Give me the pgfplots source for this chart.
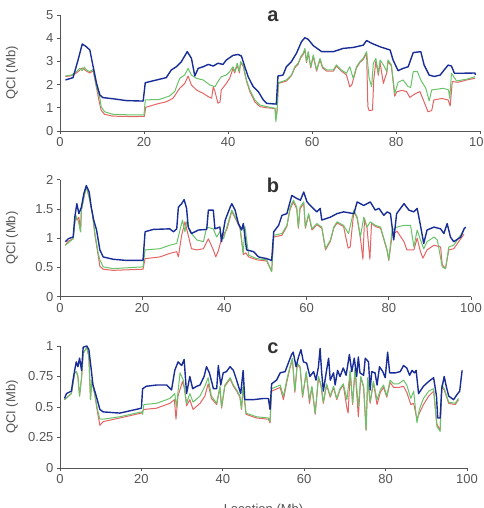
\documentclass[border=0pt]{standalone}
\usepackage{pgfplots}
\pgfplotsset{compat=1.18}
\usepackage{fontspec}
\setmainfont{Liberation Sans}
\definecolor{qblue}{RGB}{25,45,150}
\definecolor{qgreen}{RGB}{105,195,105}
\definecolor{qred}{RGB}{228,100,100}
\definecolor{txtgray}{RGB}{85,85,85}
\pgfplotsset{
  qci/.style={
    scale only axis, axis lines*=left, xmin=0, xmax=100, ymin=0,
    xtick={0,20,...,100}, tick align=outside, major tick length=3pt,
    axis line style={draw=txtgray, line width=0.8pt},
    tick style={draw=txtgray, line width=0.8pt},
    ticklabel style={font=\fontsize{13}{13}\selectfont, text=txtgray},
    /pgf/number format/assume math mode=true,
    ylabel={QCI (Mb)},
    ylabel style={anchor=center, font=\fontsize{13}{13}\selectfont, text=txtgray},
    clip=false,
  },
  bl/.style={qblue, line width=1.4pt, line join=round, mark=none},
  gr/.style={qgreen, line width=1pt, line join=round, mark=none},
  rd/.style={qred, line width=1pt, line join=round, mark=none},
}
\begin{document}
\begin{tikzpicture}[x=1pt,y=1pt]
% ---------------- panel a
\begin{axis}[qci, at={(60pt,377pt)}, anchor=south west, width=420pt, height=116pt,
  ymax=5, ytick={0,1,...,5}, ylabel style={at={(axis description cs:-0.114,0.5)}}]
\addplot[rd] coordinates {(1.3,2.35) (2.7,2.38) (3.9,2.5) (4.7,2.62) (5.3,2.72) (6.3,2.58) (7.1,2.5) (7.9,2.6) (8.7,1.85) (9.3,1.3) (9.8,0.9) (10.6,0.72) (12.6,0.64) (17.4,0.62) (20.1,0.63) (20.4,1.02) (23,1.16) (25.3,1.26) (26.9,1.41) (28.5,1.84) (29.7,2.05) (30.5,2.37) (31.3,1.98) (32.5,1.77) (34.1,1.62) (35.3,1.48) (36.1,1.41) (36.5,1.91) (36.9,1.70) (37.6,1.2) (38.1,1.25) (38.4,1.77) (39.6,2.05) (40.4,2.27) (41.2,2.7) (41.6,2.5) (42.2,2.85) (42.7,2.5) (43,2.95) (43.6,2.8) (44.4,2.15) (45.2,1.7) (46.4,1.25) (47.6,1.05) (49.2,1.0) (51.2,0.97) (51.4,0.55) (51.7,0.9) (52,2.05) (53.9,2.15) (55.1,2.38) (55.9,2.72) (56.7,2.88) (57.3,3.15) (57.9,3.3) (58.3,3.5) (58.7,2.95) (59.1,3.38) (59.7,2.72) (60.3,3.22) (61.1,2.58) (61.9,3.08) (62.5,2.72) (63.5,2.58) (65.1,2.58) (65.8,2.8) (67,2.58) (68.2,2.42) (69,1.9) (69.5,2.0) (69.8,2.2) (70.6,2.72) (71.4,2.95) (72.2,3.08) (73,3.35) (73.3,1.05) (73.6,0.88) (74.4,0.9) (74.7,2.2) (75.2,3.0) (75.8,2.4) (76.2,2.95) (77,2.05) (77.4,2.3) (77.8,2.5) (78.1,3.0) (78.9,2.8) (79.7,1.5) (80.2,1.69) (81.4,1.75) (82.5,1.7) (83.3,1.45) (84.5,1.6) (85.7,1.7) (86.5,1.34) (87.3,0.98) (87.6,0.83) (88.5,0.88) (89,1.34) (90.9,1.4) (92.4,1.34) (92.9,1.08) (93.4,2.13) (94.8,2.1) (96.8,2.2) (98.8,2.27)};
\addplot[gr] coordinates {(1.3,2.37) (2.7,2.41) (3.9,2.56) (4.7,2.7) (5.3,2.6) (5.8,2.75) (6.3,2.63) (7.1,2.56) (7.9,2.66) (8.7,1.91) (9.5,1.41) (9.8,1.05) (10.6,0.83) (12.6,0.72) (17.4,0.69) (20,0.69) (20.3,1.34) (23.7,1.36) (26.1,1.51) (27.3,1.70) (28.5,2.27) (29.7,2.41) (30.5,2.70) (31.3,2.41) (32.5,2.27) (34.1,2.2) (35.7,1.98) (36.9,1.91) (37.6,2.13) (38.4,2.34) (39.6,2.41) (40.4,2.56) (41.2,2.77) (41.6,2.56) (42.2,2.92) (42.7,2.56) (43,2.99) (43.6,2.85) (44.4,2.2) (45.2,1.77) (46.4,1.34) (47.6,1.12) (49.2,1.05) (51.2,0.98) (51.4,0.4) (51.7,0.9) (52,2.08) (53.9,2.2) (55.1,2.41) (55.9,2.77) (56.7,2.92) (57.3,3.2) (57.9,3.35) (58.3,3.56) (58.7,2.99) (59.1,3.42) (59.7,2.77) (60.3,3.28) (61.1,2.63) (61.9,3.13) (62.5,2.77) (63.5,2.63) (65.1,2.63) (65.8,2.85) (67,2.63) (68.2,2.49) (69,2.77) (69.8,2.27) (70.6,2.77) (71.4,2.99) (72.2,3.13) (73,3.42) (73.6,2.27) (74.2,1.91) (74.6,2.92) (75.2,3.13) (75.8,2.49) (76.2,3.06) (77,2.85) (77.8,2.56) (78.1,3.06) (78.9,2.85) (79.7,1.62) (80.5,2.1) (81.7,2.2) (82.9,1.91) (83.5,1.88) (84.1,2.56) (85.1,2.56) (85.9,2.2) (87.1,1.84) (87.9,1.3) (88.5,1.77) (91.3,1.84) (92.5,1.77) (92.8,1.4) (93.2,2.49) (94.4,2.16) (96.8,2.23) (98.8,2.34)};
\addplot[bl] coordinates {(1.3,2.2) (3.1,2.3) (4.3,3.06) (5.3,3.75) (6.3,3.63) (7.1,3.49) (7.9,2.77) (8.7,2.05) (9.5,1.55) (10.2,1.44) (12.6,1.39) (15.8,1.31) (19.8,1.29) (20.3,2.08) (23,2.2) (25.3,2.3) (26.5,2.63) (27.7,2.77) (28.9,2.99) (30.3,3.42) (31.3,3.13) (32.1,2.37) (32.9,2.7) (34.1,2.77) (35.3,2.87) (36.5,2.8) (37.6,2.92) (38.8,2.87) (39.6,3.06) (41.2,3.26) (42.4,3.3) (43.2,3.23) (44,2.77) (44.8,2.34) (46,1.91) (47.2,1.7) (48.4,1.34) (49.2,1.19) (51.5,1.16) (51.9,2.37) (53.1,2.41) (53.9,2.77) (55.1,2.99) (56.3,3.35) (57.5,3.85) (58.3,4.02) (59.1,3.95) (60.3,3.68) (62.3,3.42) (65.1,3.42) (67.4,3.56) (69.8,3.6) (72.2,3.7) (73,3.9) (74.2,3.78) (76.2,3.63) (78.6,3.49) (79.3,3.06) (80.5,2.6) (81.7,2.7) (82.9,2.77) (84.1,3.38) (85.9,3.42) (86.7,2.84) (87.9,2.41) (89.1,2.35) (90.5,2.41) (92.4,2.84) (93.2,2.8) (93.9,2.49) (96,2.49) (98.8,2.5) (98.9,2.42)};
\node[font=\fontsize{20}{20}\selectfont\bfseries, text=black!80] at (rel axis cs:0.507,0.99) {a};
\end{axis}
% ---------------- panel b
\begin{axis}[qci, at={(60pt,211.3pt)}, anchor=south west, width=411pt, height=117pt,
  ymax=2, ytick={0,0.5,...,2}, ylabel style={at={(axis description cs:-0.117,0.5)}}]
\addplot[rd] coordinates {(1.3,0.88) (2,0.95) (3.2,0.99) (3.8,1.39) (4.1,1.31) (4.6,1.36) (5,1.11) (5.2,1.48) (6,1.76) (6.4,1.88) (7.1,1.70) (7.9,1.42) (8.5,1.05) (9.3,0.7) (9.7,0.52) (10.5,0.47) (12.9,0.45) (20.2,0.47) (20.7,0.65) (24.3,0.68) (26.7,0.74) (28.4,0.77) (28.8,0.68) (29.6,1.05) (30.4,1.28) (31.2,1.05) (32,0.82) (33.3,0.80) (34.9,0.82) (36.1,0.99) (37.3,0.80) (37.9,0.68) (38.5,0.78) (39.3,0.99) (40.2,1.11) (40.6,1.15) (41.8,1.46) (43,1.29) (43.8,1.17) (44.6,0.72) (45.2,0.75) (45.9,0.68) (47.9,0.63) (50.3,0.61) (51.5,0.43) (52,1.02) (54,1.05) (55.2,1.2) (56,1.5) (56.8,1.62) (57.6,1.5) (58,1.17) (58.4,1.5) (59.3,1.6) (59.7,1.17) (60.5,1.40) (61.3,1.14) (62.5,1.23) (63.7,1.17) (64.6,0.80) (65.8,0.95) (66.6,1.17) (67.4,1.26) (69,1.2) (70.1,0.83) (70.6,0.85) (71.5,1.46) (72.3,1.34) (73.1,1.0) (73.7,0.64) (74.1,1.34) (74.7,1.17) (75.4,0.64) (75.8,1.26) (76.7,1.2) (78,1.17) (79.6,0.78) (80,0.62) (80.8,1.05) (82,1.12) (83.7,0.94) (84.4,0.80) (86.1,0.80) (86.9,1.0) (87.7,0.77) (88.3,0.66) (89.3,0.80) (91,0.88) (92.6,0.85) (93,0.55) (93.8,0.48) (94.6,0.80) (95.8,0.82) (98.3,1.07)};
\addplot[gr] coordinates {(1.3,0.88) (3.2,0.99) (3.8,1.39) (4.4,1.31) (5,1.11) (5.2,1.48) (6,1.76) (6.4,1.88) (7.1,1.70) (7.9,1.42) (8.5,1.08) (9.3,0.74) (9.7,0.63) (10.5,0.51) (12.9,0.48) (20.2,0.51) (20.7,0.80) (24.3,0.82) (26.7,0.88) (28.4,0.91) (29.2,1.14) (29.8,1.31) (30.4,1.11) (30.8,1.28) (31.6,1.11) (33.3,0.97) (34.9,0.94) (35.7,1.19) (37.3,1.16) (38.1,1.02) (38.9,1.11) (39.8,0.99) (40.6,1.19) (41.8,1.48) (43,1.31) (43.8,1.19) (44.6,0.74) (45,1.2) (45.9,0.71) (47.9,0.65) (50.3,0.63) (51.5,0.43) (52,1.05) (54,1.08) (55.2,1.22) (56,1.53) (56.8,1.65) (57.6,1.53) (58,1.19) (58.4,1.53) (59.3,1.62) (59.7,1.19) (60.5,1.42) (61.3,1.16) (62.5,1.25) (63.7,1.19) (64.6,0.82) (65.8,0.97) (66.6,1.19) (67.4,1.28) (69,1.22) (70.2,1.08) (71.5,1.48) (72.3,1.36) (73.1,1.02) (73.9,1.36) (74.7,1.19) (75.5,1.28) (76.7,1.22) (78,1.19) (79.6,0.80) (80,0.63) (80.8,1.14) (82,1.19) (83.7,1.22) (85.3,1.22) (86.1,0.85) (86.9,1.14) (87.7,0.97) (88.5,0.82) (89.3,0.94) (91,1.02) (91.8,0.97) (93,0.51) (93.8,0.48) (94.6,0.85) (95.8,0.88) (98.3,1.14)};
\addplot[bl] coordinates {(1.3,0.94) (2,0.99) (3.2,1.02) (3.6,1.36) (4.1,1.59) (4.6,1.42) (5.2,1.53) (5.8,1.76) (6.4,1.9) (7.1,1.79) (7.6,1.53) (8.2,1.31) (8.9,1.14) (9.7,0.8) (10.5,0.68) (12.9,0.64) (16.2,0.62) (20.2,0.62) (20.7,1.11) (22.7,1.15) (26.7,1.16) (27.6,1.11) (28.4,1.16) (28.8,1.53) (29.6,1.59) (30.2,1.66) (30.8,1.51) (31.2,1.19) (32,1.08) (33.7,1.14) (35.7,1.15) (36.1,1.48) (37.3,1.48) (37.7,1.16) (38.9,1.19) (39.3,0.94) (39.9,1.19) (40.2,1.31) (41.4,1.53) (41.8,1.59) (42.6,1.48) (43.4,1.25) (44.2,1.14) (44.6,1.25) (45.4,0.8) (47.1,0.77) (48.3,0.68) (50.3,0.65) (51.5,0.62) (52,1.11) (53.2,1.22) (54,1.39) (55.2,1.42) (56.4,1.73) (57.6,1.68) (58.5,1.65) (59.3,1.79) (60.1,1.62) (61.3,1.53) (62.5,1.45) (63.3,1.51) (63.7,1.31) (65.8,1.36) (67.4,1.42) (69,1.45) (71.5,1.42) (72.3,1.62) (73.9,1.56) (75.5,1.62) (76.7,1.48) (77.6,1.51) (78.8,1.39) (79.6,1.45) (80.4,1.42) (81.2,0.97) (81.9,1.42) (83.7,1.59) (84.9,1.48) (86.1,1.45) (86.9,1.51) (87.7,1.22) (88.5,0.91) (89.3,1.14) (91,1.19) (92.6,1.16) (93.4,1.08) (94.2,1.25) (95,1.02) (95.8,0.94) (97.5,1.02) (98.3,1.16) (98.7,1.19)};
\node[font=\fontsize{20}{20}\selectfont\bfseries, text=black!80] at (rel axis cs:0.518,0.955) {b};
\end{axis}
% ---------------- panel c
\begin{axis}[qci, at={(60pt,40pt)}, anchor=south west, width=407pt, height=122pt,
  ymax=1, ytick={0,0.25,0.5,0.75,1}, ylabel style={at={(axis description cs:-0.118,0.5)}},
  xlabel={Location (Mb)},
  xlabel style={at={(axis description cs:0.5,0)}, anchor=north, yshift=-33pt,
    font=\fontsize{13}{13}\selectfont, text=txtgray}]
\addplot[rd] coordinates {(1.1,0.56) (2.8,0.61) (3.6,0.78) (4,0.79) (4.4,0.75) (4.8,0.59) (5.3,0.74) (5.7,0.94) (6.6,0.99) (7.1,0.91) (7.5,0.56) (7.8,0.72) (8.5,0.61) (9.2,0.46) (9.8,0.35) (10.6,0.38) (14.7,0.41) (20,0.45) (20.6,0.48) (23.7,0.49) (27,0.53) (28.1,0.56) (28.5,0.40) (29,0.59) (30.1,0.71) (30.6,0.65) (31.1,0.51) (31.9,0.56) (32.7,0.48) (34.4,0.53) (35.6,0.59) (36.4,0.69) (37.2,0.57) (38.5,0.52) (39.3,0.66) (39.7,0.49) (40.5,0.67) (41.8,0.73) (42.6,0.67) (43.4,0.63) (44.2,0.58) (44.6,0.48) (45,0.66) (45.7,0.44) (48.3,0.41) (51.2,0.40) (51.6,0.37) (52,0.63) (54.1,0.66) (54.9,0.56) (55.7,0.70) (56.5,0.82) (57.1,0.89) (57.7,0.62) (58.3,0.85) (59,0.82) (59.6,0.58) (60.5,0.78) (61.3,0.53) (61.9,0.66) (62.7,0.44) (63.5,0.74) (64.1,0.68) (64.7,0.53) (65.5,0.68) (66.4,0.58) (67.2,0.66) (68,0.56) (68.8,0.64) (69.6,0.68) (70.5,0.49) (70.8,0.45) (71.3,0.79) (71.9,0.52) (72.5,0.81) (73.3,0.42) (73.9,0.74) (74.6,0.66) (75.2,0.31) (75.6,0.73) (76.2,0.53) (77,0.70) (77.9,0.52) (78.7,0.62) (79.5,0.66) (80.3,0.58) (81.1,0.70) (82,0.66) (83.2,0.66) (84.4,0.67) (85.2,0.62) (86.2,0.52) (86.9,0.53) (87.7,0.40) (88.3,0.45) (89.3,0.52) (90.6,0.59) (91.8,0.63) (92.6,0.36) (93.4,0.31) (93.8,0.66) (94.4,0.64) (95.5,0.53) (97.1,0.52) (97.9,0.56)};
\addplot[gr] coordinates {(1.1,0.56) (2.8,0.61) (3.6,0.78) (4,0.79) (4.4,0.75) (4.8,0.59) (5.3,0.74) (5.7,0.94) (6.6,0.99) (7.1,0.91) (7.5,0.56) (7.8,0.72) (8.5,0.61) (9.2,0.48) (9.8,0.40) (10.6,0.40) (14.7,0.42) (20,0.46) (20.3,0.44) (20.6,0.52) (23.7,0.53) (27,0.57) (28.2,0.61) (28.6,0.50) (29.5,0.78) (30.3,0.72) (31.1,0.53) (31.9,0.61) (32.7,0.54) (34.4,0.59) (35.6,0.67) (36.4,0.74) (37.2,0.59) (38.5,0.53) (39.3,0.67) (39.7,0.50) (40.5,0.68) (41.8,0.74) (42.6,0.68) (43.4,0.64) (44.2,0.59) (44.6,0.49) (45,0.68) (45.7,0.45) (48.3,0.42) (51.2,0.41) (51.6,0.38) (52,0.65) (54.1,0.68) (54.9,0.59) (55.7,0.72) (56.5,0.83) (57.1,0.90) (57.7,0.63) (58.3,0.86) (59,0.83) (59.6,0.59) (60.5,0.79) (61.3,0.56) (61.9,0.67) (62.7,0.45) (63.5,0.75) (64.1,0.69) (64.7,0.54) (65.5,0.69) (66.4,0.59) (67.2,0.67) (68,0.57) (68.8,0.65) (69.6,0.69) (70.5,0.56) (71.3,0.80) (71.9,0.53) (72.5,0.82) (73.3,0.50) (73.9,0.75) (74.6,0.67) (75.2,0.31) (75.6,0.74) (76.2,0.54) (77,0.71) (77.9,0.56) (78.7,0.64) (79.5,0.68) (80.3,0.59) (81.1,0.72) (82,0.69) (83.2,0.69) (84.4,0.72) (85.2,0.68) (86.2,0.57) (86.9,0.63) (87.7,0.37) (88.3,0.48) (89.3,0.57) (90.6,0.63) (91.8,0.65) (92.6,0.34) (93.4,0.30) (93.8,0.68) (94.4,0.65) (95.5,0.54) (97.1,0.53) (97.9,0.57)};
\addplot[bl] coordinates {(1.1,0.57) (1.6,0.61) (2.8,0.63) (3.2,0.72) (3.6,0.80) (4,0.87) (4.4,0.83) (4.8,0.90) (5.3,0.80) (5.7,0.99) (6.6,1.0) (7.1,0.97) (7.7,0.80) (8.1,0.68) (8.9,0.59) (9.8,0.48) (10.6,0.46) (14.7,0.45) (20,0.49) (20.3,0.65) (21.2,0.67) (23.7,0.68) (26.2,0.68) (27.4,0.64) (28.2,0.80) (29,0.87) (29.9,0.84) (30.5,0.89) (31.1,0.61) (31.9,0.75) (32.6,0.65) (33.6,0.67) (34.4,0.68) (35.4,0.75) (36,0.83) (36.7,0.78) (37.7,0.65) (38.5,0.65) (38.9,0.84) (39.5,0.68) (40.1,0.78) (40.9,0.79) (41.8,0.83) (42.6,0.80) (43.4,0.72) (44.4,0.61) (45,0.80) (45.4,0.56) (47.5,0.56) (50,0.57) (51.2,0.57) (51.6,0.48) (52,0.69) (53.2,0.72) (54.1,0.78) (55.3,0.79) (56.1,0.86) (56.9,0.93) (57.3,0.95) (58,0.83) (58.6,0.91) (59.2,0.97) (59.8,0.87) (60.6,0.86) (61.4,0.75) (62.3,0.79) (62.9,0.72) (63.5,0.83) (63.9,0.98) (64.3,0.78) (64.7,0.63) (65.4,0.78) (66,0.90) (66.4,0.72) (67.2,0.78) (67.6,0.68) (68.2,0.80) (68.8,0.75) (69.6,0.82) (70.3,0.76) (71.1,0.93) (71.7,0.79) (72.3,0.90) (72.9,0.75) (73.3,0.91) (73.7,0.78) (74.6,0.76) (75,0.90) (75.8,0.87) (76.2,0.64) (76.6,0.79) (77.4,0.78) (77.9,0.68) (78.5,0.83) (79.3,0.79) (79.9,0.74) (80.5,0.95) (81,0.78) (82.4,0.78) (83.6,0.79) (84.4,0.84) (85.2,0.82) (85.9,0.76) (86.5,0.80) (87.1,0.78) (87.5,0.80) (88.1,0.61) (89.3,0.67) (90.6,0.71) (91.8,0.74) (92.5,0.59) (92.8,0.41) (93.4,0.41) (93.8,0.65) (94.4,0.75) (94.9,0.67) (95.5,0.59) (96.7,0.56) (97.5,0.60) (98.2,0.63) (98.8,0.80)};
\node[font=\fontsize{20}{20}\selectfont\bfseries, text=black!80] at (rel axis cs:0.523,0.98) {c};
\end{axis}
\pgfresetboundingbox
\useasboundingbox (0pt,0pt) rectangle (483pt,508pt);
\end{tikzpicture}
\end{document}
